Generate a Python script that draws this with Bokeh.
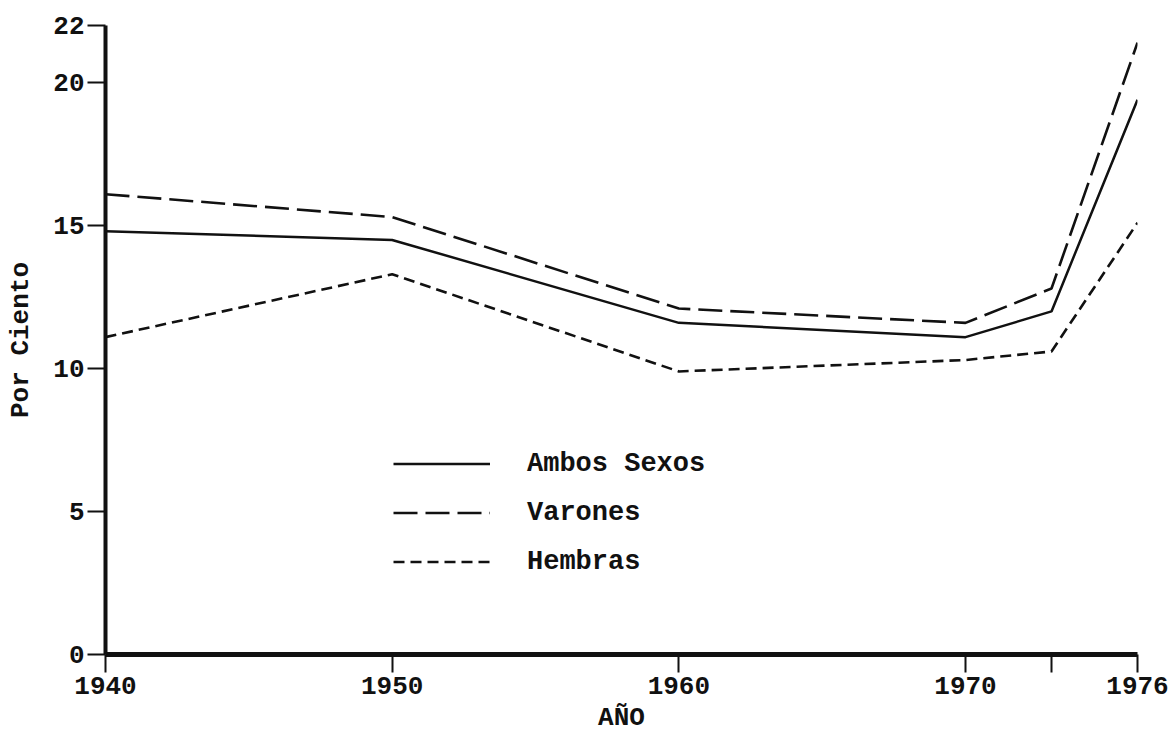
from bokeh.plotting import figure
from bokeh.models import Range1d, FixedTicker, Legend, LegendItem
from bokeh.embed import file_html
from bokeh.resources import INLINE

years = [1940, 1950, 1960, 1970, 1973, 1976]
ambos = [14.8, 14.5, 11.6, 11.1, 12.0, 19.4]
varones = [16.1, 15.3, 12.1, 11.6, 12.8, 21.4]
hembras = [11.1, 13.3, 9.9, 10.3, 10.6, 15.1]

x_ticks = [1940, 1950, 1960, 1970, 1973, 1976]
x_labels = {1973: ""}
y_ticks = [0, 5, 10, 15, 20, 22]

FONT = "Liberation Mono"
INK = "#111111"

p = figure(width=1170, height=735, output_backend="svg", toolbar_location=None,
           x_range=Range1d(1940, 1976), y_range=Range1d(0, 22),
           min_border_left=105, min_border_top=25, min_border_right=33, min_border_bottom=80)
p.outline_line_color = None
p.xgrid.grid_line_color = None
p.ygrid.grid_line_color = None
p.background_fill_color = "white"
p.border_fill_color = "white"

r1 = p.line(years, ambos, line_color=INK, line_width=2.5)
r2 = p.line(years, varones, line_color=INK, line_width=2.6, line_dash="24 8")
r3 = p.line(years, hembras, line_color=INK, line_width=2.6, line_dash="11 6")

for ax in (p.xaxis[0], p.yaxis[0]):
    ax.axis_line_color = INK
    ax.major_tick_line_color = INK
    ax.major_tick_line_width = 2
    ax.minor_tick_line_color = None
    ax.major_tick_in = 0
    ax.major_label_text_font = FONT
    ax.major_label_text_font_size = "26px"
    ax.major_label_text_font_style = "bold"
    ax.major_label_text_color = INK
    ax.axis_label_text_font = FONT
    ax.axis_label_text_font_size = "26px"
    ax.axis_label_text_font_style = "bold"
    ax.axis_label_text_color = INK

p.xaxis[0].ticker = FixedTicker(ticks=x_ticks)
p.xaxis[0].major_label_overrides = x_labels
p.xaxis[0].axis_line_width = 5
p.xaxis[0].major_tick_out = 18
p.xaxis[0].major_label_standoff = 4
p.xaxis[0].axis_label = "AÑO"
p.xaxis[0].axis_label_standoff = 6

p.yaxis[0].ticker = FixedTicker(ticks=y_ticks)
p.yaxis[0].axis_line_width = 4
p.yaxis[0].major_tick_out = 18
p.yaxis[0].major_label_standoff = 3
p.yaxis[0].axis_label = "Por Ciento"
p.yaxis[0].axis_label_standoff = 14

legend = Legend(items=[LegendItem(label="Ambos Sexos", renderers=[r1]),
                       LegendItem(label="Varones", renderers=[r2]),
                       LegendItem(label="Hembras", renderers=[r3])],
                location=(288, 68), orientation="vertical",
                glyph_width=97, glyph_height=49, label_height=49,
                label_standoff=37, spacing=0, padding=0, margin=0,
                border_line_color=None, background_fill_alpha=0,
                label_text_font=FONT, label_text_font_size="27px",
                label_text_color=INK, label_text_font_style="bold")
p.add_layout(legend)

open("out.html", "w").write(file_html(p, INLINE))
